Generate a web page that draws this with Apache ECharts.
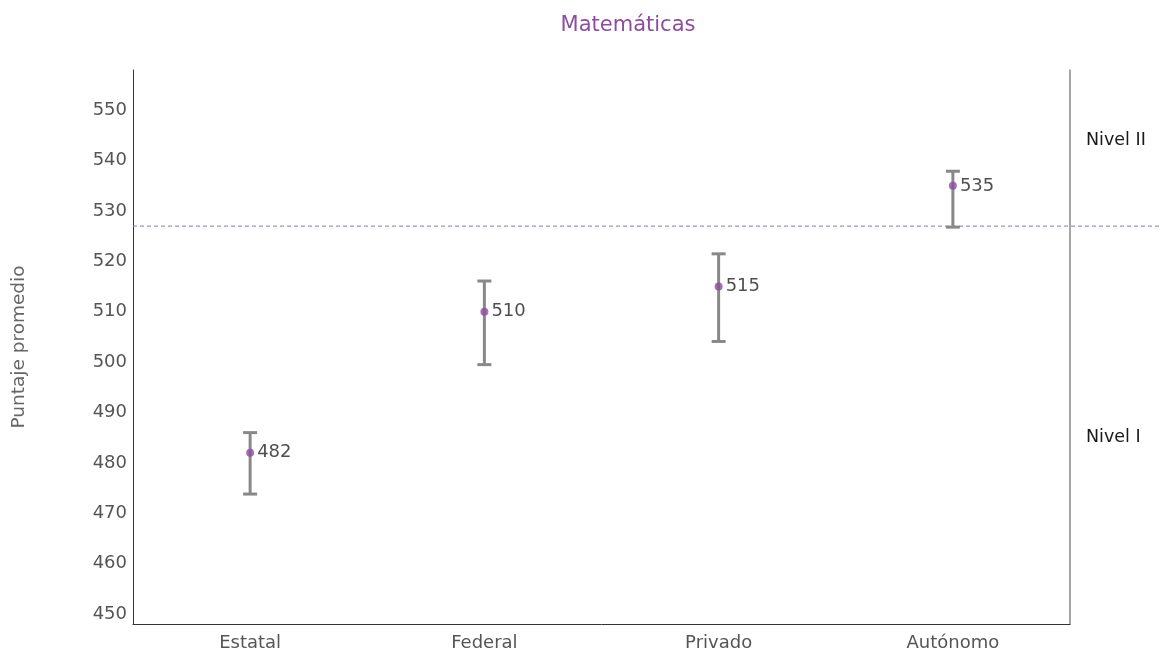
<!DOCTYPE html>
<html>
<head>
<meta charset="utf-8">
<script src="https://cdn.jsdelivr.net/npm/echarts@6/dist/echarts.min.js"></script>
<style>
  html, body { margin: 0; padding: 0; background: #fff; }
  #chart { width: 1161px; height: 654px; }
</style>
</head>
<body>
<div id="chart"></div>
<script>
// Puntaje promedio en Matemáticas por tipo de sostenimiento
const categories = ['Estatal', 'Federal', 'Privado', 'Autónomo'];
const means = [482, 510, 515, 535];
const lowerBounds = [473.8, 499.5, 504.1, 526.8];
const upperBounds = [486.0, 516.1, 521.5, 537.9];
const yTicks = [450, 460, 470, 480, 490, 500, 510, 520, 530, 540, 550];
const levelCut = 527;
const levelLabelValues = [544, 485];
const levelNames = ['Nivel II', 'Nivel I'];

const FONT = '"DejaVu Sans", "Noto Sans", sans-serif';

const chart = echarts.init(document.getElementById('chart'), null, { renderer: 'canvas' });

chart.setOption({
  animation: false,
  backgroundColor: '#ffffff',
  title: {
    text: 'Matemáticas',
    left: 623,
    top: 10,
    textAlign: 'center',
    textStyle: { color: '#8e4c9e', fontSize: 21, fontWeight: 'normal', fontFamily: FONT }
  },
  grid: { left: 133, right: 91, top: 70, bottom: 30 },
  xAxis: {
    type: 'category',
    data: categories,
    boundaryGap: true,
    axisLine: { show: true, lineStyle: { color: '#333', width: 1 } },
    axisTick: { show: false },
    axisLabel: { color: '#555', fontSize: 18, fontFamily: FONT, margin: 10 },
    splitLine: { show: false }
  },
  yAxis: [
    {
      type: 'value',
      min: 448,
      max: 558,
      name: 'Puntaje promedio',
      nameLocation: 'middle',
      nameGap: 104,
      nameRotate: 90,
      nameTextStyle: { color: '#666', fontSize: 18.5, fontFamily: FONT },
      axisLine: { show: true, lineStyle: { color: '#333', width: 1 } },
      axisTick: { show: false },
      splitLine: { show: false },
      axisLabel: {
        customValues: yTicks,
        color: '#555',
        fontSize: 18,
        fontFamily: FONT,
        margin: 6
      }
    },
    {
      type: 'value',
      position: 'right',
      min: 448,
      max: 558,
      axisLine: { show: true, lineStyle: { color: '#888', width: 1.5 } },
      axisTick: { show: false },
      splitLine: { show: false },
      axisLabel: {
        customValues: levelLabelValues,
        formatter: function (v) {
          return levelNames[levelLabelValues.indexOf(v)];
        },
        color: '#1a1a1a',
        fontSize: 17.5,
        fontFamily: FONT,
        margin: 16
      }
    }
  ],
  series: [
    {
      // línea de corte entre niveles, se extiende hasta el borde derecho
      type: 'custom',
      data: [[0, levelCut]],
      clip: false,
      silent: true,
      z: 1,
      renderItem: function (params, api) {
        const y = api.coord([0, api.value(1)])[1];
        const x0 = params.coordSys.x;
        return {
          type: 'line',
          shape: { x1: x0, y1: y, x2: api.getWidth(), y2: y },
          style: { stroke: '#9a72b4', lineWidth: 1, lineDash: [4, 3] }
        };
      }
    },
    {
      // barras de error (intervalo de confianza)
      type: 'custom',
      data: categories.map((c, i) => [i, lowerBounds[i], upperBounds[i]]),
      z: 2,
      renderItem: function (params, api) {
        const lo = api.coord([api.value(0), api.value(1)]);
        const hi = api.coord([api.value(0), api.value(2)]);
        const half = 7;
        const style = { stroke: '#888888', lineWidth: 3 };
        return {
          type: 'group',
          children: [
            { type: 'line', shape: { x1: lo[0], y1: lo[1], x2: hi[0], y2: hi[1] }, style: style },
            { type: 'line', shape: { x1: lo[0] - half, y1: lo[1], x2: lo[0] + half, y2: lo[1] }, style: style },
            { type: 'line', shape: { x1: hi[0] - half, y1: hi[1], x2: hi[0] + half, y2: hi[1] }, style: style }
          ]
        };
      }
    },
    {
      type: 'scatter',
      data: means,
      symbol: 'circle',
      symbolSize: 8,
      z: 3,
      itemStyle: { color: '#8e4c9e' },
      label: {
        show: true,
        position: 'right',
        distance: 3,
        color: '#222',
        fontSize: 18,
        fontFamily: FONT,
        formatter: function (p) { return String(p.value); }
      }
    }
  ]
});
</script>
</body>
</html>
